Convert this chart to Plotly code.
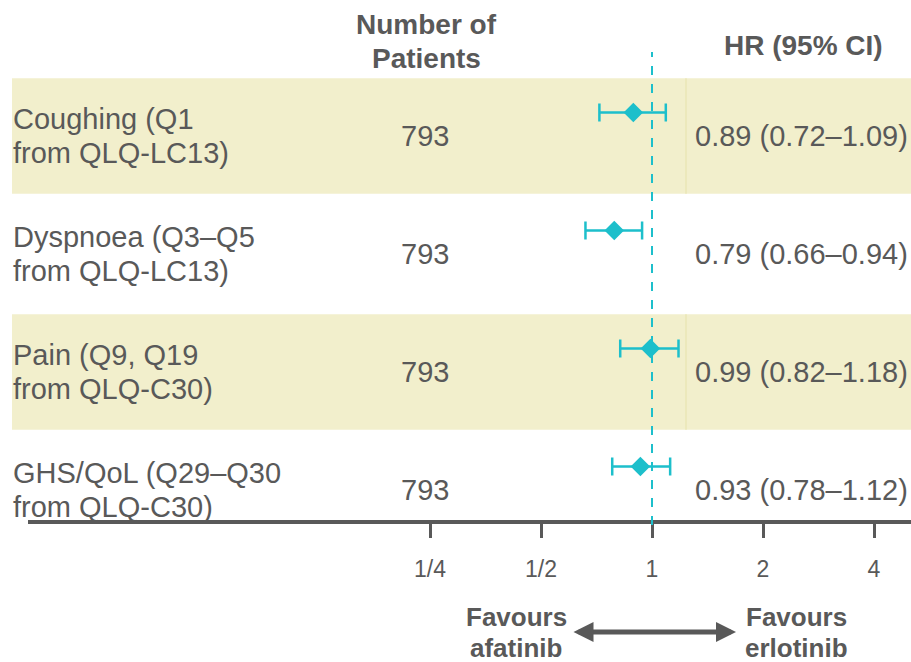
import plotly.graph_objects as go

# ---- data ----
endpoints = [
    ["Coughing (Q1", "from QLQ-LC13)"],
    ["Dyspnoea (Q3–Q5", "from QLQ-LC13)"],
    ["Pain (Q9, Q19", "from QLQ-C30)"],
    ["GHS/QoL (Q29–Q30", "from QLQ-C30)"],
]
n_patients = [793, 793, 793, 793]
hr = [0.89, 0.79, 0.99, 0.93]
ci_low = [0.72, 0.66, 0.82, 0.78]
ci_high = [1.09, 0.94, 1.18, 1.12]
tick_vals = [0.25, 0.5, 1, 2, 4]
tick_text = ["1/4", "1/2", "1", "2", "4"]

W, H = 911, 662
FONT = "Liberation Sans, Arial, sans-serif"
GREY = "#595959"
TEAL = "#1dbfcb"
BAND = "#f2efcc"

rows = list(range(len(endpoints)))
def py(p):
    return (H - p) / H

fig = go.Figure()

fig.add_trace(go.Scatter(
    x=hr,
    y=[r - 0.2 for r in rows],
    mode="markers",
    marker=dict(symbol="diamond", size=15, color=TEAL),
    error_x=dict(
        type="data", symmetric=False,
        array=[h - m for h, m in zip(ci_high, hr)],
        arrayminus=[m - l for m, l in zip(hr, ci_low)],
        color=TEAL, thickness=2.5, width=9,
    ),
    showlegend=False, hoverinfo="skip",
))

shapes = []
for r in rows:
    if r % 2 == 0:
        shapes.append(dict(type="rect", xref="paper", yref="y",
                           x0=12 / W, x1=1, y0=r - 0.49, y1=r + 0.49,
                           fillcolor=BAND, line=dict(width=0), layer="below"))
        shapes.append(dict(type="line", xref="paper", yref="y",
                           x0=686 / W, x1=686 / W, y0=r - 0.49, y1=r + 0.49,
                           line=dict(color="#e6e2ab", width=1), layer="below"))
shapes.append(dict(type="line", xref="x", yref="paper", x0=1, x1=1,
                   y0=py(525), y1=py(52),
                   line=dict(color=TEAL, width=2, dash="dash")))

annotations = []
for r in rows:
    for k, line in enumerate(endpoints[r]):
        annotations.append(dict(xref="paper", yref="y", x=11 / W, y=r,
                                yshift=17 if k == 0 else -17,
                                text=line, showarrow=False, xanchor="left",
                                yanchor="middle",
                                font=dict(family=FONT, size=29, color=GREY)))
    annotations.append(dict(xref="paper", yref="y", x=425 / W, y=r,
                            text=str(n_patients[r]), showarrow=False,
                            xanchor="center", yanchor="middle",
                            font=dict(family=FONT, size=29, color=GREY)))
    annotations.append(dict(xref="paper", yref="y", x=693 / W, y=r,
                            text=f"{hr[r]:.2f} ({ci_low[r]:.2f}–{ci_high[r]:.2f})",
                            showarrow=False, xanchor="left", yanchor="middle",
                            font=dict(family=FONT, size=29, color=GREY)))

hdr_font = dict(family=FONT, size=28, color=GREY)
for txt, yp in [("<b>Number of</b>", 25), ("<b>Patients</b>", 58)]:
    annotations.append(dict(xref="paper", yref="paper", x=426 / W, y=py(yp),
                            text=txt, showarrow=False, xanchor="center",
                            yanchor="middle", font=hdr_font))
annotations.append(dict(xref="paper", yref="paper", x=803 / W, y=py(45),
                        text="<b>HR (95% CI)</b>", showarrow=False,
                        xanchor="center", yanchor="middle", font=hdr_font))

fav_font = dict(family=FONT, size=26, color=GREY)
for cx, words in [(516, ["Favours", "afatinib"]), (796, ["Favours", "erlotinib"])]:
    for k, wd in enumerate(words):
        annotations.append(dict(xref="paper", yref="paper", x=cx / W,
                                y=py(617 + 31 * k), text=f"<b>{wd}</b>",
                                showarrow=False, xanchor="center",
                                yanchor="middle", font=fav_font))
annotations.append(dict(xref="paper", yref="paper", x=736 / W, y=py(632),
                        ax=-(736 - 572), ay=0, axref="pixel", ayref="pixel",
                        text="", showarrow=True, arrowside="end+start",
                        arrowhead=2, startarrowhead=2,
                        arrowsize=0.8, startarrowsize=0.8,
                        arrowwidth=5, arrowcolor=GREY,
                        standoff=0, startstandoff=0))

fig.update_layout(
    width=W, height=H,
    margin=dict(l=0, r=0, t=0, b=0),
    plot_bgcolor="white", paper_bgcolor="white",
    shapes=shapes, annotations=annotations,
    xaxis=dict(type="log", domain=[28 / W, 1], range=[-1.6923, 0.7024],
               anchor="free", position=py(522),
               tickvals=tick_vals, ticktext=tick_text,
               showline=True, linecolor=GREY, linewidth=4,
               ticks="outside", ticklen=14, tickwidth=3, tickcolor=GREY,
               showgrid=False, zeroline=False,
               tickfont=dict(family=FONT, size=23, color=GREY),
               ticklabelstandoff=11),
    yaxis=dict(domain=[0, 1], range=[(H - 136) / 118, -136 / 118],
               visible=False, showgrid=False, zeroline=False),
)

fig.write_html("out.html")
